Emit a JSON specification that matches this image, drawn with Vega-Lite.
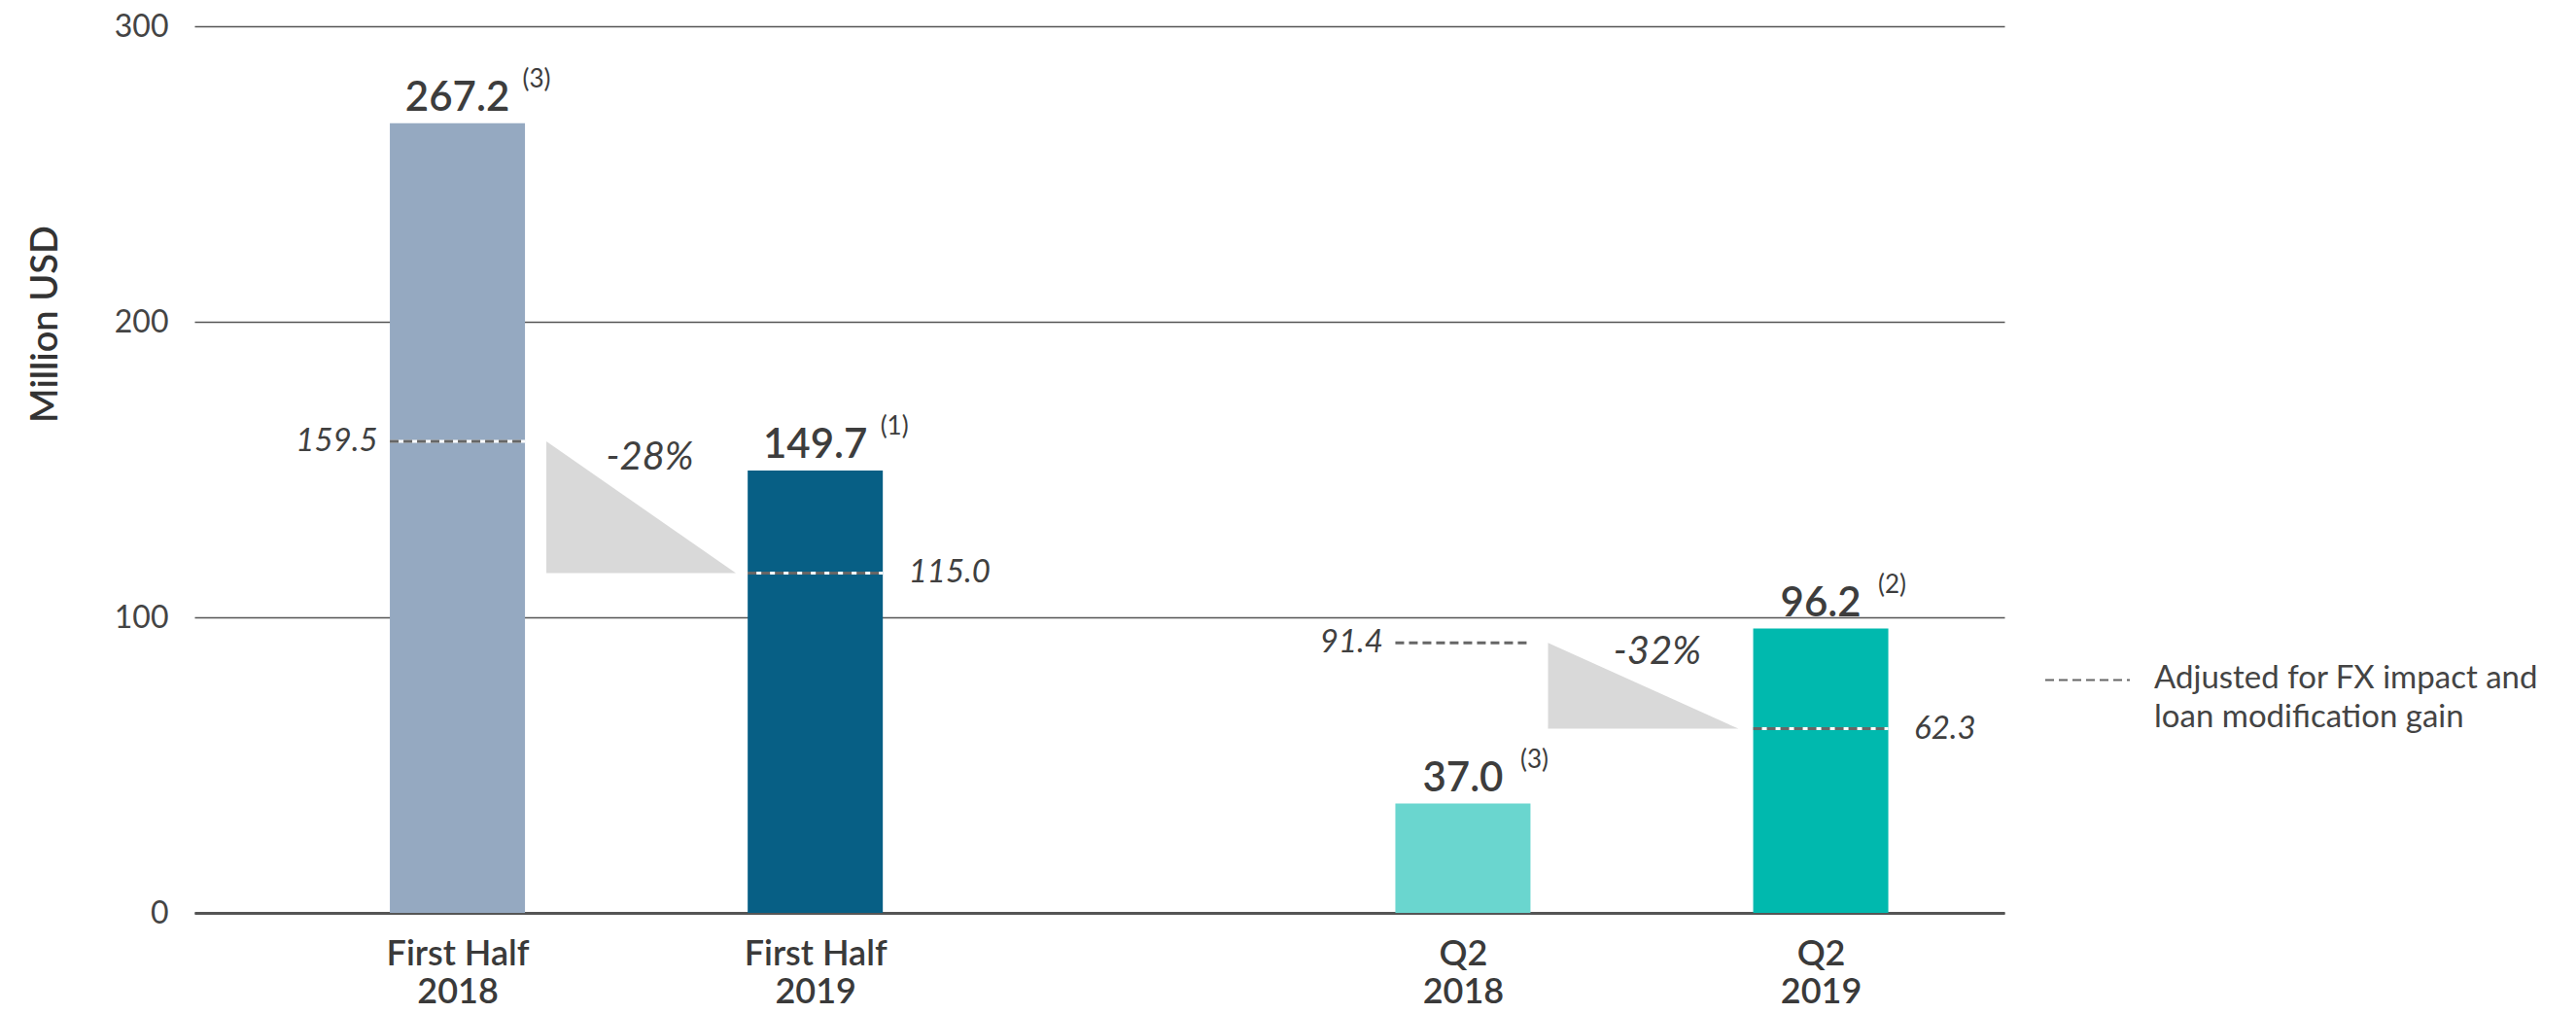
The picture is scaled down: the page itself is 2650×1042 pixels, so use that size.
{
  "$schema": "https://vega.github.io/schema/vega-lite/v6.json",
  "autosize": {"type": "none"},
  "width": 1862,
  "height": 912,
  "padding": {"left": 200, "top": 27, "right": 588, "bottom": 103},
  "config": {"view": {"stroke": null}, "font": "Lato", "background": "white"},
  "datasets": {
    "bars": [
      {"period": "First Half 2018", "pos": 1, "value": 267.2, "adj": 159.5, "note": "(3)", "grp": "H", "year": "2018", "kind": "adjusted"},
      {"period": "First Half 2019", "pos": 2, "value": 149.7, "adj": 115.0, "note": "(1)", "grp": "H", "year": "2019", "kind": "adjusted"},
      {"period": "Q2 2018", "pos": 3.81, "value": 37.0, "adj": 91.4, "note": "(3)", "grp": "Q", "year": "2018", "kind": "adjusted"},
      {"period": "Q2 2019", "pos": 4.81, "value": 96.2, "adj": 62.3, "note": "(2)", "grp": "Q", "year": "2019", "kind": "adjusted"}
    ],
    "tri": [
      {"grp": "H", "x": 1.2486, "top": 159.5, "base": 115.0},
      {"grp": "H", "x": 1.7782, "top": 115.0, "base": 115.0},
      {"grp": "Q", "x": 4.0478, "top": 91.4, "base": 62.3},
      {"grp": "Q", "x": 4.5801, "top": 62.3, "base": 62.3}
    ],
    "chg": [
      {"x": 1.5377, "y": 150.0, "label": "-28%"},
      {"x": 4.3532, "y": 84.2, "label": "-32%"}
    ]
  },
  "encoding": {
    "x": {
      "type": "quantitative",
      "scale": {"domain": [0.2786, 5.3097], "nice": false, "zero": false}
    },
    "y": {
      "type": "quantitative",
      "scale": {"domain": [0, 300], "nice": false}
    }
  },
  "layer": [
    {
      "data": {"name": "bars"},
      "mark": {"type": "bar", "size": 139},
      "encoding": {
        "x": {
          "field": "pos", "type": "quantitative",
          "scale": {"domain": [0.2786, 5.3097], "nice": false, "zero": false},
          "axis": {
            "values": [1, 2, 3.81, 4.81],
            "labelExpr": "datum.value == 1 ? ['First Half', '2018'] : datum.value == 2 ? ['First Half', '2019'] : datum.value < 4 ? ['Q2', '2018'] : ['Q2', '2019']",
            "title": null, "grid": false, "ticks": false,
            "domain": true, "domainColor": "#555555", "domainWidth": 3,
            "labelFont": "Lato", "labelFontSize": 36, "labelFontWeight": 600,
            "labelColor": "#3a3a3a", "labelLineHeight": 39, "labelPadding": 25,
            "labelOverlap": false
          }
        },
        "y": {
          "field": "value", "type": "quantitative",
          "scale": {"domain": [0, 300], "nice": false},
          "axis": {
            "values": [0, 100, 200, 300],
            "grid": true, "gridColor": "#555555", "gridWidth": 1.5,
            "domain": false, "ticks": false,
            "labelFont": "Lato", "labelFontSize": 32, "labelColor": "#444444", "labelPadding": 27,
            "title": "Million USD", "titleFont": "Lato", "titleFontSize": 38, "titleFontWeight": 600,
            "titleColor": "#333333", "titleX": -134, "titleY": 306
          }
        },
        "color": {
          "field": "period", "type": "nominal",
          "scale": {
            "domain": ["First Half 2018", "First Half 2019", "Q2 2018", "Q2 2019"],
            "range": ["#95A9C1", "#075F85", "#6AD6CF", "#00B9AE"]
          },
          "legend": null
        }
      }
    },
    {
      "data": {"name": "tri"},
      "mark": {"type": "area", "color": "#D9D9D9"},
      "encoding": {
        "x": {"field": "x", "type": "quantitative"},
        "y": {"field": "top", "type": "quantitative"},
        "y2": {"field": "base"},
        "detail": {"field": "grp"}
      }
    },
    {
      "data": {"name": "bars"},
      "mark": {"type": "rule", "color": "white", "strokeWidth": 3, "xOffset": -69.5, "x2Offset": 69.5},
      "encoding": {
        "x": {"field": "pos", "type": "quantitative"},
        "x2": {"field": "pos"},
        "y": {"field": "adj", "type": "quantitative"}
      }
    },
    {
      "data": {"name": "bars"},
      "mark": {"type": "rule", "color": "#666666", "strokeWidth": 3, "xOffset": -69.5, "x2Offset": 69.5},
      "encoding": {
        "x": {"field": "pos", "type": "quantitative"},
        "x2": {"field": "pos"},
        "y": {"field": "adj", "type": "quantitative"},
        "strokeDash": {
          "field": "kind", "type": "nominal",
          "scale": {"domain": ["adjusted"], "range": [[9, 5]]},
          "legend": {
            "orient": "none", "legendX": 1903, "legendY": 628, "padding": 0,
            "title": null, "symbolType": "stroke", "symbolStrokeColor": "#666666",
            "symbolStrokeWidth": 2, "symbolSize": 7569, "symbolDash": [9, 5],
            "labelFont": "Lato", "labelFontSize": 33, "labelColor": "#444444",
            "labelBaseline": "alphabetic", "labelOffset": 24, "labelLimit": 0,
            "labelExpr": "['Adjusted for FX impact and', 'loan modification gain']",
            "encode": {"labels": {"update": {"lineHeight": {"value": 40}, "dy": {"value": 8}}}}
          }
        }
      }
    },
    {
      "data": {"name": "bars"},
      "mark": {"type": "text", "baseline": "alphabetic", "align": "center", "dy": -13, "fontSize": 42, "fontWeight": 600, "color": "#3d3d3d", "font": "Lato"},
      "encoding": {
        "x": {"field": "pos", "type": "quantitative"},
        "y": {"field": "value", "type": "quantitative"},
        "text": {"field": "value", "type": "quantitative", "format": ".1f"}
      }
    },
    {
      "data": {"name": "bars"},
      "transform": [{"filter": "datum.grp == 'H'"}],
      "mark": {"type": "text", "baseline": "alphabetic", "align": "left", "dx": 67, "dy": -37, "fontSize": 26, "color": "#3d3d3d", "font": "Lato"},
      "encoding": {
        "x": {"field": "pos", "type": "quantitative"},
        "y": {"field": "value", "type": "quantitative"},
        "text": {"field": "note"}
      }
    },
    {
      "data": {"name": "bars"},
      "transform": [{"filter": "datum.grp == 'Q'"}],
      "mark": {"type": "text", "baseline": "alphabetic", "align": "left", "dx": 59, "dy": -37, "fontSize": 26, "color": "#3d3d3d", "font": "Lato"},
      "encoding": {
        "x": {"field": "pos", "type": "quantitative"},
        "y": {"field": "value", "type": "quantitative"},
        "text": {"field": "note"}
      }
    },
    {
      "data": {"name": "bars"},
      "transform": [{"filter": "datum.year == '2018'"}],
      "mark": {"type": "text", "baseline": "middle", "align": "right", "dx": -82, "fontSize": 33, "fontStyle": "italic", "color": "#404040", "font": "Lato"},
      "encoding": {
        "x": {"field": "pos", "type": "quantitative"},
        "y": {"field": "adj", "type": "quantitative"},
        "text": {"field": "adj", "type": "quantitative", "format": ".1f"}
      }
    },
    {
      "data": {"name": "bars"},
      "transform": [{"filter": "datum.year == '2019'"}],
      "mark": {"type": "text", "baseline": "middle", "align": "left", "dx": 96, "fontSize": 33, "fontStyle": "italic", "color": "#404040", "font": "Lato"},
      "encoding": {
        "x": {"field": "pos", "type": "quantitative"},
        "y": {"field": "adj", "type": "quantitative"},
        "text": {"field": "adj", "type": "quantitative", "format": ".1f"}
      }
    },
    {
      "data": {"name": "chg"},
      "mark": {"type": "text", "baseline": "alphabetic", "align": "center", "fontSize": 40, "fontStyle": "italic", "color": "#404040", "font": "Lato"},
      "encoding": {
        "x": {"field": "x", "type": "quantitative"},
        "y": {"field": "y", "type": "quantitative"},
        "text": {"field": "label"}
      }
    }
  ]
}
